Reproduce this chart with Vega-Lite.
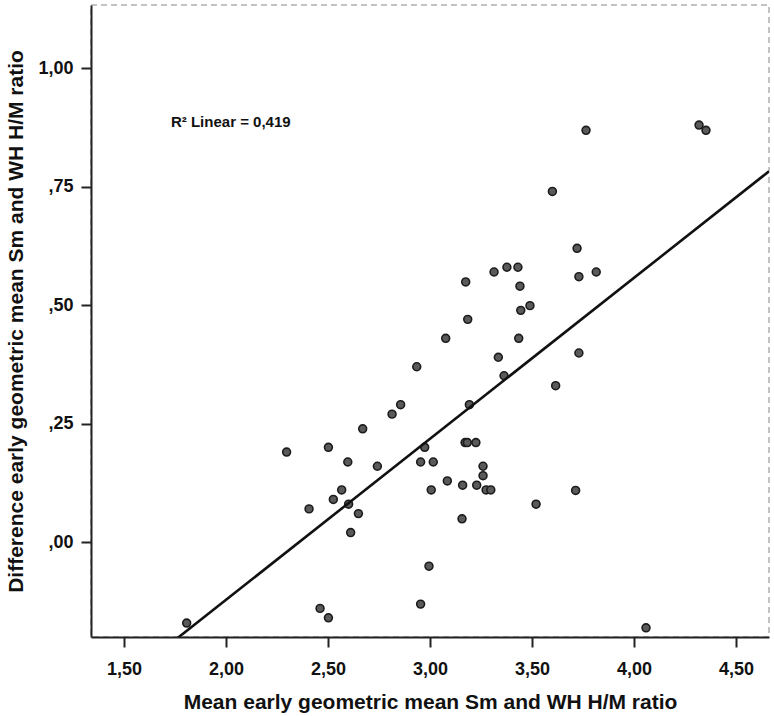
{
  "$schema": "https://vega.github.io/schema/vega-lite/v6.json",
  "width": 678,
  "height": 632,
  "autosize": "none",
  "padding": {"left": 91, "top": 5, "right": 5, "bottom": 79},
  "background": "white",
  "config": {
    "view": {"stroke": "#b0b0b0", "strokeDash": [6, 4], "strokeWidth": 1.5},
    "axis": {
      "grid": false,
      "domainColor": "#222222",
      "domainWidth": 2,
      "tickColor": "#222222",
      "tickWidth": 2,
      "tickSize": 10,
      "labelFont": "Liberation Sans",
      "labelFontWeight": "bold",
      "labelFontSize": 18,
      "labelColor": "#111111",
      "titleFont": "Liberation Sans",
      "titleFontWeight": "bold",
      "titleFontSize": 21,
      "titleColor": "#111111"
    }
  },
  "layer": [
    {
      "data": {
        "values": [
          {"x": 1.807, "y": -0.171}, {"x": 2.297, "y": 0.19}, {"x": 2.407, "y": 0.07},
          {"x": 2.461, "y": -0.14}, {"x": 2.502, "y": -0.16}, {"x": 2.502, "y": 0.2},
          {"x": 2.526, "y": 0.09}, {"x": 2.567, "y": 0.11}, {"x": 2.597, "y": 0.169},
          {"x": 2.601, "y": 0.08}, {"x": 2.611, "y": 0.02}, {"x": 2.649, "y": 0.06},
          {"x": 2.67, "y": 0.239}, {"x": 2.742, "y": 0.16}, {"x": 2.814, "y": 0.27},
          {"x": 2.856, "y": 0.29}, {"x": 2.935, "y": 0.37}, {"x": 2.954, "y": 0.169},
          {"x": 2.954, "y": -0.131}, {"x": 2.974, "y": 0.2}, {"x": 2.995, "y": -0.051},
          {"x": 3.006, "y": 0.11}, {"x": 3.016, "y": 0.169}, {"x": 3.077, "y": 0.43},
          {"x": 3.085, "y": 0.129}, {"x": 3.157, "y": 0.049}, {"x": 3.16, "y": 0.12},
          {"x": 3.172, "y": 0.21}, {"x": 3.183, "y": 0.21}, {"x": 3.175, "y": 0.549},
          {"x": 3.185, "y": 0.47}, {"x": 3.193, "y": 0.29}, {"x": 3.225, "y": 0.21},
          {"x": 3.229, "y": 0.12}, {"x": 3.26, "y": 0.16}, {"x": 3.26, "y": 0.14},
          {"x": 3.275, "y": 0.11}, {"x": 3.298, "y": 0.11}, {"x": 3.314, "y": 0.57},
          {"x": 3.335, "y": 0.39}, {"x": 3.363, "y": 0.351}, {"x": 3.377, "y": 0.58},
          {"x": 3.431, "y": 0.58}, {"x": 3.435, "y": 0.43}, {"x": 3.441, "y": 0.54},
          {"x": 3.445, "y": 0.489}, {"x": 3.49, "y": 0.499}, {"x": 3.52, "y": 0.08},
          {"x": 3.6, "y": 0.74}, {"x": 3.616, "y": 0.33}, {"x": 3.714, "y": 0.109},
          {"x": 3.721, "y": 0.62}, {"x": 3.73, "y": 0.56}, {"x": 3.73, "y": 0.399},
          {"x": 3.765, "y": 0.869}, {"x": 3.815, "y": 0.57}, {"x": 4.059, "y": -0.181},
          {"x": 4.319, "y": 0.88}, {"x": 4.353, "y": 0.869}
        ]
      },
      "layer": [
        {
          "mark": {"type": "circle", "size": 62, "fill": "#5a5a5a", "fillOpacity": 1, "stroke": "#1c1c1c", "strokeWidth": 1.6, "opacity": 1},
          "encoding": {
            "x": {
              "field": "x", "type": "quantitative",
              "scale": {"domain": [1.338, 4.662], "nice": false, "zero": false},
              "axis": {
                "values": [1.5, 2, 2.5, 3, 3.5, 4, 4.5],
                "labelExpr": "replace(format(datum.value, '.2f'), '.', ',')",
                "labelPadding": 13,
                "title": "Mean early geometric mean Sm and WH H/M ratio",
                "titleX": 339,
                "titleY": 71,
                "titleBaseline": "alphabetic",
                "titleAnchor": "middle"
              }
            },
            "y": {
              "field": "y", "type": "quantitative",
              "scale": {"domain": [-0.2004, 1.1335], "nice": false, "zero": false},
              "axis": {
                "values": [0, 0.25, 0.5, 0.75, 1],
                "labelExpr": "datum.value < 1 ? replace(format(datum.value, '.2f'), '0.', ',') : replace(format(datum.value, '.2f'), '.', ',')",
                "labelPadding": 8,
                "title": "Difference early geometric mean Sm and WH H/M ratio",
                "titleX": -69,
                "titleY": 316,
                "titleAngle": -90,
                "titleBaseline": "alphabetic",
                "titleAlign": "center"
              }
            }
          }
        },
        {
          "transform": [{"regression": "y", "on": "x", "extent": [1.338, 4.662]}],
          "mark": {"type": "line", "color": "#111111", "strokeWidth": 2.6, "clip": true},
          "encoding": {
            "x": {"field": "x", "type": "quantitative"},
            "y": {"field": "y", "type": "quantitative"}
          }
        }
      ]
    },
    {
      "data": {"values": [{"x": 1.73, "y": 0.886, "label": "R² Linear = 0,419"}]},
      "mark": {"type": "text", "align": "left", "baseline": "middle", "font": "Liberation Sans", "fontWeight": "bold", "fontSize": 15, "color": "#111111"},
      "encoding": {
        "x": {"field": "x", "type": "quantitative"},
        "y": {"field": "y", "type": "quantitative"},
        "text": {"field": "label"}
      }
    }
  ]
}
